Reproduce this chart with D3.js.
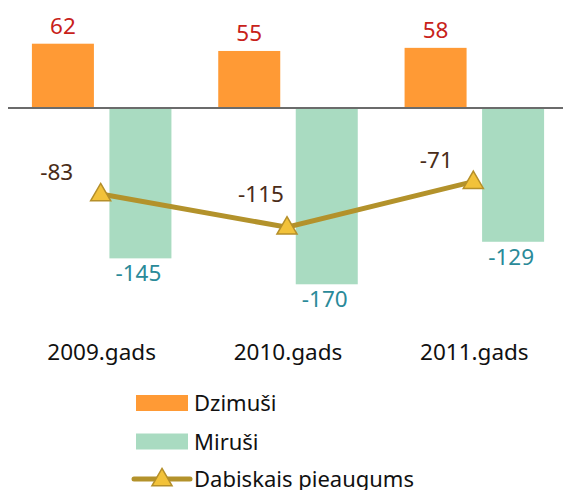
<!DOCTYPE html>
<html>
<head>
<meta charset="utf-8">
<script src="https://cdn.jsdelivr.net/npm/d3@7"></script>
<style>
  html, body { margin: 0; padding: 0; background: #fff; }
  svg { display: block; font-family: "Noto Sans", "Open Sans", sans-serif; }
</style>
</head>
<body>
<div id="chart"></div>
<script>
const years = ["2009.gads", "2010.gads", "2011.gads"];
const born = [62, 55, 58];
const died = [-145, -170, -129];
const natural = [-83, -115, -71];
const seriesNames = ["Dzimuši", "Miruši", "Dabiskais pieaugums"];

// manual nudges of the line labels (the original had them dragged by hand)
const lineLabelNudge = [[-44, -14], [-26, -25], [-37, -14]];

const width = 563, height = 490;
const colors = { born: "#FF9A35", died: "#A9DBC1", line: "#B3922B", marker: "#F2C23A", markerStroke: "#B58F2A" };

const svg = d3.select("#chart").append("svg").attr("width", width).attr("height", height);

const x0 = d3.scaleBand().domain(years).range([8.5, 567.5]).padding(0);
const x1 = d3.scaleBand().domain(["born", "died"]).range([0, x0.bandwidth()]).paddingInner(0.2).paddingOuter(0.302);
const y = d3.scaleLinear().domain([-200, 100]).range([315.4, 4.3]);

const groups = svg.append("g").selectAll("g").data(years).join("g")
  .attr("transform", (d) => `translate(${x0(d)},0)`);

groups.append("rect")
  .attr("x", x1("born"))
  .attr("width", x1.bandwidth())
  .attr("y", (d, i) => y(born[i]))
  .attr("height", (d, i) => y(0) - y(born[i]))
  .attr("fill", colors.born);

groups.append("rect")
  .attr("x", x1("died"))
  .attr("width", x1.bandwidth())
  .attr("y", y(0))
  .attr("height", (d, i) => y(died[i]) - y(0))
  .attr("fill", colors.died);

groups.append("text")
  .attr("x", x1("born") + x1.bandwidth() / 2)
  .attr("y", (d, i) => y(born[i]) - 9.5)
  .attr("text-anchor", "middle")
  .attr("font-size", 22.5)
  .attr("fill", "#C8221A")
  .text((d, i) => born[i]);

groups.append("text")
  .attr("x", x1("died") + x1.bandwidth() / 2 - 2)
  .attr("y", (d, i) => y(died[i]) + 23)
  .attr("text-anchor", "middle")
  .attr("font-size", 22.5)
  .attr("fill", "#2A8A99")
  .text((d, i) => died[i]);

// zero axis
svg.append("line")
  .attr("x1", 8).attr("x2", width)
  .attr("y1", y(0)).attr("y2", y(0))
  .attr("stroke", "#6b6b6b").attr("stroke-width", 2);

// category labels
svg.append("g").selectAll("text").data(years).join("text")
  .attr("x", (d) => x0(d) + x0.bandwidth() / 2)
  .attr("y", 359.5)
  .attr("text-anchor", "middle")
  .attr("font-size", 22.5)
  .attr("fill", "#111")
  .text((d) => d);

// natural growth line
const pts = years.map((d, i) => ({ x: x0(d) + x0.bandwidth() / 2 - 1, y: y(natural[i]), v: natural[i] }));
const line = d3.line().x((d) => d.x).y((d) => d.y);
svg.append("path").datum(pts)
  .attr("d", line)
  .attr("fill", "none")
  .attr("stroke", colors.line)
  .attr("stroke-width", 5);

const tri = d3.symbol().type(d3.symbolTriangle).size(175);
svg.append("g").selectAll("path").data(pts).join("path")
  .attr("d", tri)
  .attr("transform", (d) => `translate(${d.x},${d.y + 1})`)
  .attr("fill", colors.marker)
  .attr("stroke", colors.markerStroke)
  .attr("stroke-width", 1.5);

svg.append("g").selectAll("text").data(pts).join("text")
  .attr("x", (d, i) => d.x + lineLabelNudge[i][0])
  .attr("y", (d, i) => d.y + lineLabelNudge[i][1])
  .attr("text-anchor", "middle")
  .attr("font-size", 22.5)
  .attr("fill", "#4A2C18")
  .text((d) => d.v);

// legend
const legend = svg.append("g").attr("transform", "translate(136,0)");
const rows = [403, 441.5, 479];
legend.append("rect").attr("x", 0).attr("y", rows[0] - 8).attr("width", 52).attr("height", 16).attr("fill", colors.born);
legend.append("rect").attr("x", 0).attr("y", rows[1] - 8).attr("width", 52).attr("height", 16).attr("fill", colors.died);
legend.append("line").attr("x1", -2).attr("x2", 54).attr("y1", rows[2]).attr("y2", rows[2])
  .attr("stroke", colors.line).attr("stroke-width", 5).attr("stroke-linecap", "round");
legend.append("path").attr("d", tri).attr("transform", `translate(26,${rows[2] + 1})`)
  .attr("fill", colors.marker).attr("stroke", colors.markerStroke).attr("stroke-width", 1.5);
legend.selectAll("text.lg").data(seriesNames).join("text")
  .attr("class", "lg")
  .attr("x", 58)
  .attr("y", (d, i) => rows[i] + 8)
  .attr("font-size", 22)
  .attr("fill", "#111")
  .text((d) => d);
</script>
</body>
</html>
